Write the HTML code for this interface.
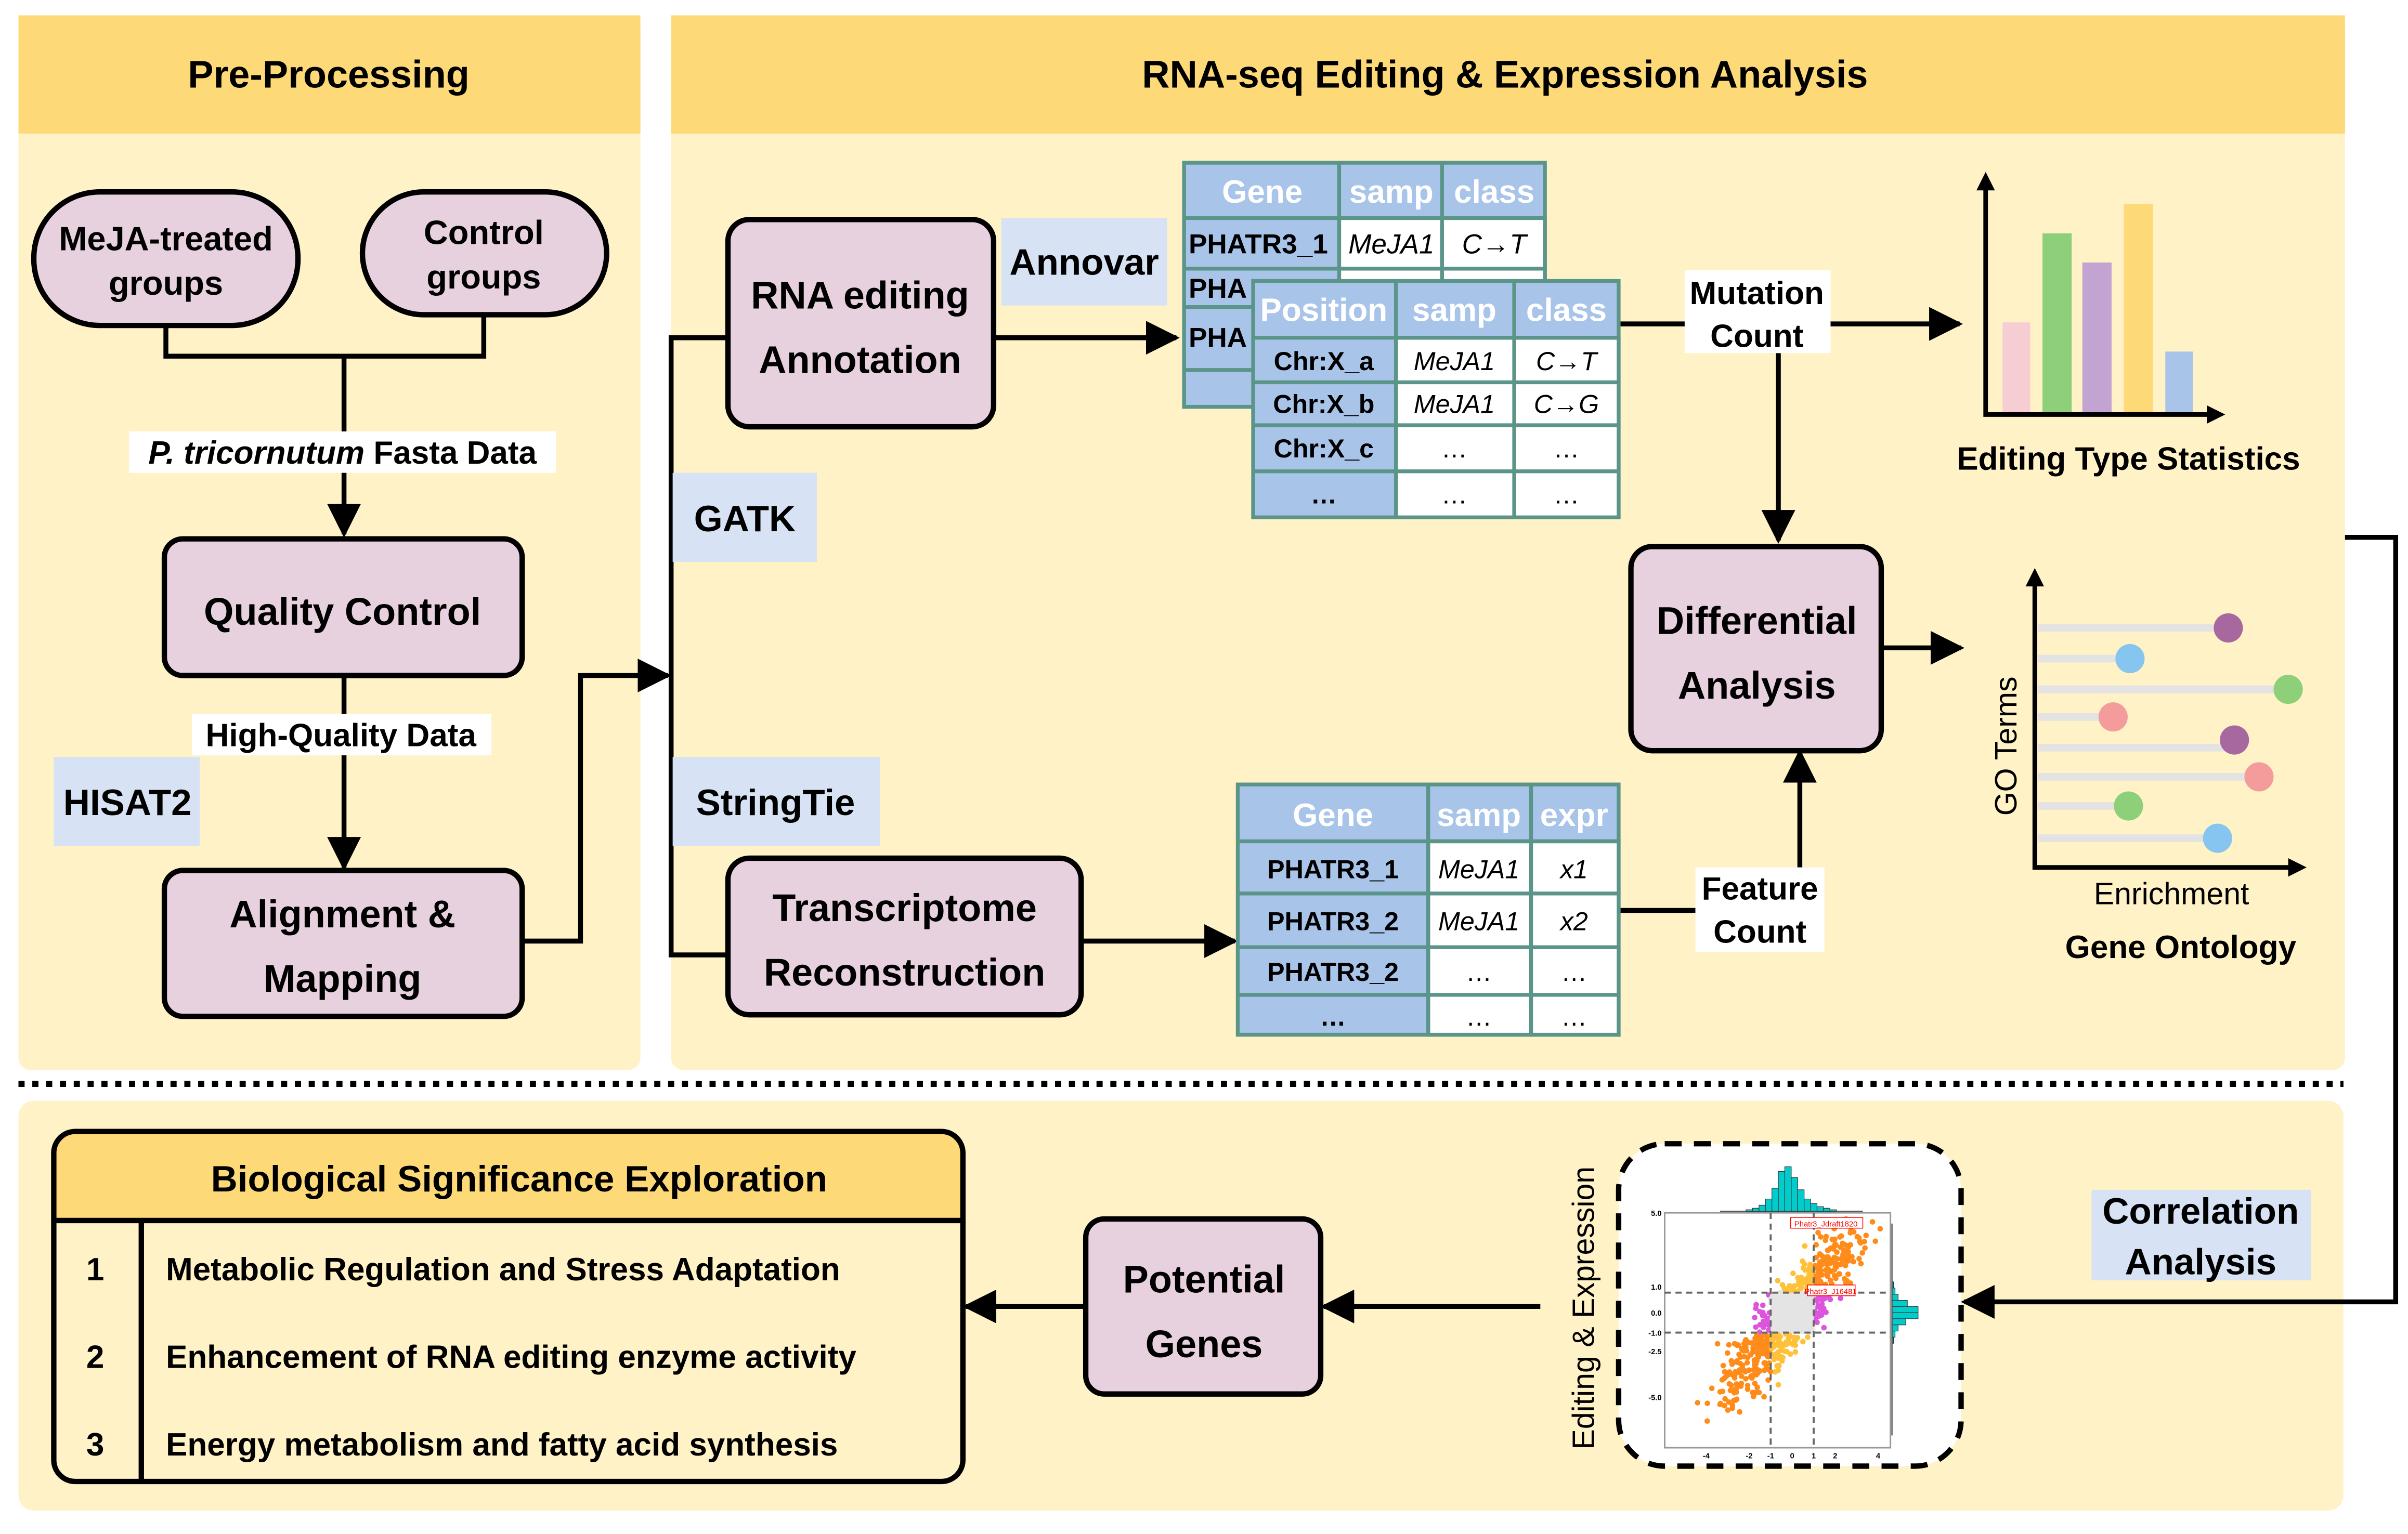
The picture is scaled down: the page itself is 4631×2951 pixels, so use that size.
<!DOCTYPE html>
<html><head><meta charset="utf-8"><style>
html,body{margin:0;padding:0;background:#fff}
svg{display:block}
text{font-family:"Liberation Sans",Arial,sans-serif}
</style></head><body>
<svg id="s" width="4631" height="2951" viewBox="0 0 1568 999.2" xmlns="http://www.w3.org/2000/svg">
<defs>
<marker id="ab" viewBox="0 0 10 10" markerWidth="22" markerHeight="22" refX="9" refY="5" orient="auto" markerUnits="userSpaceOnUse"><path d="M0,0 L10,5 L0,10 Z" fill="#000"/></marker>
</defs>
<rect x="12" y="10" width="405" height="687" rx="8" fill="#FFF2C7"/>
<rect x="12" y="10" width="405" height="77" fill="#FDD977"/>
<rect x="437" y="10" width="1090" height="687" rx="8" fill="#FFF2C7"/>
<rect x="437" y="10" width="1090" height="77" fill="#FDD977"/>
<text x="214" y="57" font-size="25" font-weight="bold" text-anchor="middle">Pre-Processing</text>
<text x="980" y="57" font-size="25" font-weight="bold" text-anchor="middle">RNA-seq Editing &amp; Expression Analysis</text>
<line x1="12" y1="706" x2="1526" y2="706" stroke="#000" stroke-width="4" stroke-dasharray="4,5"/>
<rect x="12" y="717" width="1514" height="267" rx="10" fill="#FFF2C7"/>

<g stroke="#000" stroke-width="3.2" fill="none">
<polyline points="108,212 108,232 315,232 315,205"/>
<line x1="224" y1="232" x2="224" y2="348" marker-end="url(#ab)"/>
<line x1="224" y1="440" x2="224" y2="565" marker-end="url(#ab)"/>
<polyline points="340,613 378,613 378,440 435,440" marker-end="url(#ab)"/>
<polyline points="474,220 437,220 437,622 474,622"/>
<line x1="647" y1="220" x2="766" y2="220" marker-end="url(#ab)"/>
<line x1="704" y1="613" x2="804" y2="613" marker-end="url(#ab)"/>
<line x1="1054" y1="211" x2="1276" y2="211" marker-end="url(#ab)"/>
<line x1="1158" y1="230" x2="1158" y2="352" marker-end="url(#ab)"/>
<line x1="1225" y1="422" x2="1277" y2="422" marker-end="url(#ab)"/>
<line x1="1054" y1="593" x2="1104" y2="593"/>
<line x1="1172" y1="565" x2="1172" y2="490" marker-end="url(#ab)"/>
<polyline points="1527,350 1560,350 1560,848 1279,848" marker-end="url(#ab)"/>
<line x1="1003" y1="851" x2="862" y2="851" marker-end="url(#ab)"/>
<line x1="706" y1="851" x2="629" y2="851" marker-end="url(#ab)"/>
</g>

<g fill="#E8D1DE" stroke="#000" stroke-width="3.5">
<rect x="22" y="125" width="172" height="87" rx="43"/>
<rect x="236" y="125" width="159" height="80" rx="40"/>
<rect x="107" y="351" width="233" height="89" rx="12"/>
<rect x="107" y="567" width="233" height="95" rx="12"/>
<rect x="474" y="143" width="173" height="135" rx="14"/>
<rect x="474" y="559" width="230" height="102" rx="14"/>
<rect x="1062" y="356" width="163" height="133" rx="14"/>
<rect x="707" y="794" width="153" height="114" rx="12"/>
</g>
<g font-weight="bold" text-anchor="middle" font-size="22">
<text x="108" y="163">MeJA-treated</text><text x="108" y="192">groups</text>
<text x="315" y="159">Control</text><text x="315" y="188">groups</text>
</g>
<g font-weight="bold" text-anchor="middle" font-size="25">
<text x="223" y="407">Quality Control</text>
<text x="223" y="604">Alignment &amp;</text><text x="223" y="646">Mapping</text>
<text x="560" y="201">RNA editing</text><text x="560" y="243">Annotation</text>
<text x="589" y="600">Transcriptome</text><text x="589" y="642">Reconstruction</text>
<text x="1144" y="413">Differential</text><text x="1144" y="455">Analysis</text>
<text x="784" y="842">Potential</text><text x="784" y="884">Genes</text>
</g>

<rect x="84" y="281" width="278" height="27" fill="#fff"/>
<text x="223" y="302" font-size="21" font-weight="bold" text-anchor="middle"><tspan font-style="italic">P. tricornutum</tspan> Fasta Data</text>
<rect x="125" y="465" width="195" height="27" fill="#fff"/>
<text x="222" y="486" font-size="21" font-weight="bold" text-anchor="middle">High-Quality Data</text>
<g fill="#D7E3F4">
<rect x="35" y="493" width="95" height="58"/>
<rect x="438" y="308" width="94" height="58"/>
<rect x="438" y="493" width="135" height="58"/>
<rect x="652" y="142" width="108" height="57"/>
<rect x="1362" y="775" width="143" height="59"/>
</g>
<g font-size="24" font-weight="bold" text-anchor="middle">
<text x="83" y="531">HISAT2</text>
<text x="485" y="346">GATK</text>
<text x="505" y="531">StringTie</text>
<text x="706" y="179">Annovar</text>
<text x="1433" y="797">Correlation</text><text x="1433" y="830">Analysis</text>
</g>
<rect x="1097" y="176" width="95" height="54" fill="#fff"/>
<text x="1144" y="198" font-size="21" font-weight="bold" text-anchor="middle">Mutation</text>
<text x="1144" y="226" font-size="21" font-weight="bold" text-anchor="middle">Count</text>
<rect x="1104" y="565" width="84" height="55" fill="#fff"/>
<text x="1146" y="586" font-size="21" font-weight="bold" text-anchor="middle">Feature</text>
<text x="1146" y="614" font-size="21" font-weight="bold" text-anchor="middle">Count</text>

<g stroke="#5B9589" stroke-width="2.5">
<rect x="771" y="106" width="235" height="159" fill="#A9C4E9"/>
<rect x="872" y="142" width="134" height="33" fill="#fff"/>
<rect x="872" y="175" width="134" height="25" fill="#fff"/>
<line x1="872" y1="106" x2="872" y2="265"/><line x1="939" y1="106" x2="939" y2="200"/>
<line x1="771" y1="142" x2="1006" y2="142"/><line x1="771" y1="175" x2="1006" y2="175"/>
<line x1="771" y1="200" x2="1006" y2="200"/><line x1="771" y1="241" x2="1006" y2="241"/>
</g>
<g font-size="21" font-weight="bold" fill="#fff" text-anchor="middle">
<text x="822" y="132">Gene</text><text x="906" y="132">samp</text><text x="973" y="132">class</text>
</g>
<text x="774" y="165" font-size="18" font-weight="bold">PHATR3_1</text>
<text x="906" y="165" font-size="18" font-style="italic" text-anchor="middle">MeJA1</text>
<text x="973" y="165" font-size="18" font-style="italic" text-anchor="middle">C→T</text>
<text x="774" y="194" font-size="18" font-weight="bold">PHA</text>
<text x="774" y="226" font-size="18" font-weight="bold">PHA</text>

<g stroke="#5B9589" stroke-width="2.5">
<rect x="816" y="183" width="238" height="154" fill="#A9C4E9"/>
<rect x="909" y="220" width="145" height="117" fill="#fff"/>
<line x1="909" y1="183" x2="909" y2="337"/><line x1="986" y1="183" x2="986" y2="337"/>
<line x1="816" y1="220" x2="1054" y2="220"/><line x1="816" y1="249" x2="1054" y2="249"/>
<line x1="816" y1="277" x2="1054" y2="277"/><line x1="816" y1="307" x2="1054" y2="307"/>
</g>
<g font-size="21" font-weight="bold" fill="#fff" text-anchor="middle">
<text x="862" y="209">Position</text><text x="947" y="209">samp</text><text x="1020" y="209">class</text>
</g>
<g font-size="17" text-anchor="middle">
<text x="862" y="241" font-weight="bold">Chr:X_a</text><text x="947" y="241" font-style="italic">MeJA1</text><text x="1020" y="241" font-style="italic">C→T</text>
<text x="862" y="269" font-weight="bold">Chr:X_b</text><text x="947" y="269" font-style="italic">MeJA1</text><text x="1020" y="269" font-style="italic">C→G</text>
<text x="862" y="298" font-weight="bold">Chr:X_c</text><text x="947" y="298">…</text><text x="1020" y="298">…</text>
<text x="862" y="328" font-weight="bold">…</text><text x="947" y="328">…</text><text x="1020" y="328">…</text>
</g>

<g stroke="#5B9589" stroke-width="2.5">
<rect x="806" y="511" width="248" height="163" fill="#A9C4E9"/>
<rect x="930" y="548" width="124" height="126" fill="#fff"/>
<line x1="930" y1="511" x2="930" y2="674"/><line x1="997" y1="511" x2="997" y2="674"/>
<line x1="806" y1="548" x2="1054" y2="548"/><line x1="806" y1="582" x2="1054" y2="582"/>
<line x1="806" y1="617" x2="1054" y2="617"/><line x1="806" y1="648" x2="1054" y2="648"/>
</g>
<g font-size="21" font-weight="bold" fill="#fff" text-anchor="middle">
<text x="868" y="538">Gene</text><text x="963" y="538">samp</text><text x="1025" y="538">expr</text>
</g>
<g font-size="17" text-anchor="middle">
<text x="868" y="572" font-weight="bold">PHATR3_1</text><text x="963" y="572" font-style="italic">MeJA1</text><text x="1025" y="572" font-style="italic">x1</text>
<text x="868" y="606" font-weight="bold">PHATR3_2</text><text x="963" y="606" font-style="italic">MeJA1</text><text x="1025" y="606" font-style="italic">x2</text>
<text x="868" y="639" font-weight="bold">PHATR3_2</text><text x="963" y="639">…</text><text x="1025" y="639">…</text>
<text x="868" y="668" font-weight="bold">…</text><text x="963" y="668">…</text><text x="1025" y="668">…</text>
</g>

<rect x="1304" y="210" width="18" height="60" fill="#F6CDD2"/>
<rect x="1330" y="152" width="19" height="118" fill="#8ED07A"/>
<rect x="1356" y="171" width="19" height="99" fill="#C2A3D1"/>
<rect x="1383" y="133" width="19" height="137" fill="#FDD977"/>
<rect x="1410" y="229" width="18" height="41" fill="#A9C4E9"/>
<polyline points="1293,122 1293,270 1440,270" stroke="#000" stroke-width="3" fill="none"/>
<path d="M1287,124 L1293,112 L1299,124Z M1437,264 L1449,270 L1437,276Z" fill="#000"/>
<text x="1386" y="306" font-size="21" font-weight="bold" text-anchor="middle">Editing Type Statistics</text>

<g stroke="#E3E3E3" stroke-width="5">
<line x1="1327" y1="409" x2="1451" y2="409"/><line x1="1327" y1="429" x2="1387" y2="429"/>
<line x1="1327" y1="449" x2="1490" y2="449"/><line x1="1327" y1="467" x2="1376" y2="467"/>
<line x1="1327" y1="487" x2="1455" y2="487"/><line x1="1327" y1="506" x2="1471" y2="506"/>
<line x1="1327" y1="525" x2="1386" y2="525"/><line x1="1327" y1="546" x2="1444" y2="546"/>
</g>
<circle cx="1451" cy="409" r="9.5" fill="#A7679F"/><circle cx="1387" cy="429" r="9.5" fill="#85C5F0"/>
<circle cx="1490" cy="449" r="9.5" fill="#8ED07A"/><circle cx="1376" cy="467" r="9.5" fill="#F49C9C"/>
<circle cx="1455" cy="482" r="9.5" fill="#A7679F"/><circle cx="1471" cy="506" r="9.5" fill="#F49C9C"/>
<circle cx="1386" cy="525" r="9.5" fill="#8ED07A"/><circle cx="1444" cy="546" r="9.5" fill="#85C5F0"/>
<polyline points="1325,380 1325,565 1492,565" stroke="#000" stroke-width="3" fill="none"/>
<path d="M1319,382 L1325,370 L1331,382Z M1490,559 L1502,565 L1490,571Z" fill="#000"/>
<text transform="translate(1313,486) rotate(-90)" font-size="20" text-anchor="middle">GO Terms</text>
<text x="1414" y="589" font-size="20" text-anchor="middle">Enrichment</text>
<text x="1420" y="624" font-size="21" font-weight="bold" text-anchor="middle">Gene Ontology</text>

<rect x="35" y="737" width="592" height="228" rx="14" fill="#FFF2C7"/>
<path d="M35,795 L35,751 Q35,737 49,737 L613,737 Q627,737 627,751 L627,795 Z" fill="#FDD977"/>
<rect x="35" y="737" width="592" height="228" rx="14" fill="none" stroke="#000" stroke-width="3.5"/>
<line x1="35" y1="795" x2="627" y2="795" stroke="#000" stroke-width="3.5"/>
<line x1="92" y1="795" x2="92" y2="965" stroke="#000" stroke-width="3.5"/>
<text x="338" y="776" font-size="24" font-weight="bold" text-anchor="middle">Biological Significance Exploration</text>
<g font-size="21" font-weight="bold">
<text x="62" y="834" text-anchor="middle">1</text><text x="108" y="834">Metabolic Regulation and Stress Adaptation</text>
<text x="62" y="891" text-anchor="middle">2</text><text x="108" y="891">Enhancement of RNA editing enzyme activity</text>
<text x="62" y="948" text-anchor="middle">3</text><text x="108" y="948">Energy metabolism and fatty acid synthesis</text>
</g>

<rect x="1054" y="745" width="223" height="210" rx="30" fill="#fff" stroke="#000" stroke-width="3.5" stroke-dasharray="11,8"/>
<text transform="translate(1038,852) rotate(-90)" font-size="20" text-anchor="middle">Editing &amp; Expression</text>
<rect x="1084" y="790" width="147" height="153" fill="none" stroke="#999" stroke-width="1"/>
<g id="dots"></g>
<rect x="1153" y="842" width="28" height="26" fill="#E4E4E4"/>
<g stroke="#666" stroke-width="1.3" stroke-dasharray="4,3">
<line x1="1153" y1="790" x2="1153" y2="943"/><line x1="1181" y1="790" x2="1181" y2="943"/>
<line x1="1084" y1="842" x2="1231" y2="842"/><line x1="1084" y1="868" x2="1231" y2="868"/>
</g>
<line x1="1120" y1="789" x2="1213" y2="789" stroke="#555" stroke-width="0.8"/>
<g id="hist" fill="#00CCCC" stroke="#333" stroke-width="0.4"></g>
<line x1="1232" y1="797" x2="1232" y2="935" stroke="#555" stroke-width="0.8"/>
<rect x="1166" y="793" width="47" height="7" fill="#fff" stroke="#f00" stroke-width="0.5"/>
<text x="1189" y="799" font-size="5" fill="#f00" text-anchor="middle" font-family="Liberation Serif">Phatr3_Jdraft1820</text>
<rect x="1177" y="837" width="31" height="7" fill="#fff" stroke="#f00" stroke-width="0.5"/>
<text x="1192" y="843" font-size="5" fill="#f00" text-anchor="middle" font-family="Liberation Serif">Phatr3_J16481</text>
<g font-size="5" font-family="Liberation Serif" font-weight="bold" text-anchor="end">
<text x="1082" y="792">5.0</text><text x="1082" y="840">1.0</text><text x="1082" y="857">0.0</text><text x="1082" y="870">-1.0</text><text x="1082" y="882">-2.5</text><text x="1082" y="912">-5.0</text>
</g>
<g font-size="5" font-family="Liberation Serif" font-weight="bold" text-anchor="middle">
<text x="1111" y="950">-4</text><text x="1139" y="950">-2</text><text x="1153" y="950">-1</text><text x="1167" y="950">0</text><text x="1181" y="950">1</text><text x="1195" y="950">2</text><text x="1223" y="950">4</text>
</g>
</svg>
<script>
(function(){
var s=12345;function r(){s=(s*1103515245+12345)%2147483648;return s/2147483648;}
function g(){return (r()+r()+r()-1.5)*1.4;}
var h='';
for(var i=0;i<750;i++){
 var t=g()*2.2, x=t*0.9+g()*0.8, y=t*1.2+g()*0.9;
 var px=1167+x*14, py=855-y*13;
 if(px<1086||px>1229||py<792||py>941)continue;
 var c;
 if(x>=-1&&x<=1&&y>=-1&&y<=1)c='#E4E4E4';
 else if(y>=-1&&y<=1)c='#DD55DD';
 else if((x<-1&&y<-1)||(x>1&&y>1))c='#FF8C1A';
 else if(x>=-1&&x<=1)c='#FFC13A';
 else c='#FF9A3A';
 h+='<circle cx="'+px.toFixed(1)+'" cy="'+py.toFixed(1)+'" r="1.8" fill="'+c+'"/>';
}
document.getElementById('dots').innerHTML=h;
var hb='';
var top=[1,2,4,8,15,26,29,22,14,8,5,3,2,1];
for(var j=0;j<top.length;j++){hb+='<rect x="'+(1137+j*4.2)+'" y="'+(789-top[j])+'" width="4.2" height="'+top[j]+'"/>';}
var rt=[1,2,4,10,17,17,9,4,2,1];
for(var k=0;k<rt.length;k++){hb+='<rect x="1232" y="'+(835+k*4)+'" width="'+rt[k]+'" height="4"/>';}
document.getElementById('hist').innerHTML=hb;
})();
</script>
</body></html>
